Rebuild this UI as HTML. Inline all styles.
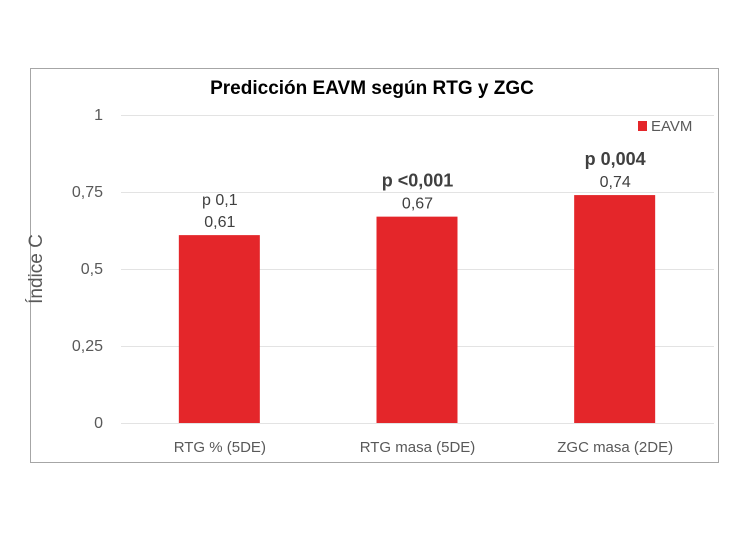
<!DOCTYPE html>
<html><head><meta charset="utf-8"><style>
body{margin:0;background:#fff;width:750px;height:530px;overflow:hidden;font-family:"Liberation Sans",sans-serif}
</style></head><body>
<svg id="chart" width="750" height="530" font-family="Liberation Sans, sans-serif">
<rect x="30.5" y="68.5" width="688" height="394" fill="#fff" stroke="#a6a6a6"/>
<text x="372" y="94" text-anchor="middle" font-size="19" font-weight="bold" fill="#000">Predicción EAVM según RTG y ZGC</text>
<rect x="638" y="121" width="9" height="10" fill="#e4262a"/>
<text x="651" y="131" font-size="15" fill="#595959">EAVM</text>
<text transform="translate(42,269) rotate(-90)" text-anchor="middle" font-size="19" fill="#595959">Índice C</text>
<g id="grid"></g><g id="bars"></g>
</svg>
<script>
const categories=["RTG % (5DE)","RTG masa (5DE)","ZGC masa (2DE)"];
const values=[0.61,0.67,0.74];
const valueLabels=["0,61","0,67","0,74"];
const pLabels=["p 0,1","p <0,001","p 0,004"];
const pBold=[false,true,true];
const ticks=[0,0.25,0.5,0.75,1];
const tickLabels=["0","0,25","0,5","0,75","1"];
const NS="http://www.w3.org/2000/svg";
const x0=121,x1=714,y0=423,y1=115;
const y=v=>y0-(y0-y1)*v;
const bw=(x1-x0)/categories.length;
const cx=i=>x0+bw*(i+0.5);
function mk(t,a,p){const e=document.createElementNS(NS,t);for(const k in a)e.setAttribute(k,a[k]);p.appendChild(e);return e;}
const g=document.getElementById('grid'),b=document.getElementById('bars');
ticks.forEach((t,i)=>{
 const l=mk('line',{x1:x0,x2:x1,y1:y(t)+0.5,y2:y(t)+0.5,stroke:'#e3e3e3','stroke-width':1},g);
 
 
 const tx=mk('text',{x:103,y:y(t)+5,'text-anchor':'end','font-size':16,fill:'#595959'},g);
 tx.textContent=tickLabels[i];
 
 
});
categories.forEach((c,i)=>{
 const r=mk('rect',{x:cx(i)-41,y:y(values[i]),width:81,height:y0-y(values[i]),fill:'#e4262a'},b);
 
 
 const v=mk('text',{x:cx(i),y:y(values[i])-8,'text-anchor':'middle','font-size':16,fill:'#404040'},b);
 v.textContent=valueLabels[i];
 
 
 const p=mk('text',{x:cx(i),y:y(values[i])-30,'text-anchor':'middle','font-size':pBold[i]?18:16,'font-weight':pBold[i]?'bold':'normal',fill:'#404040'},b);
 p.textContent=pLabels[i];
 
 
 const cl=mk('text',{x:cx(i),y:452,'text-anchor':'middle','font-size':15,fill:'#595959'},b);
 cl.textContent=c;
 
 
});
</script>
</body></html>
